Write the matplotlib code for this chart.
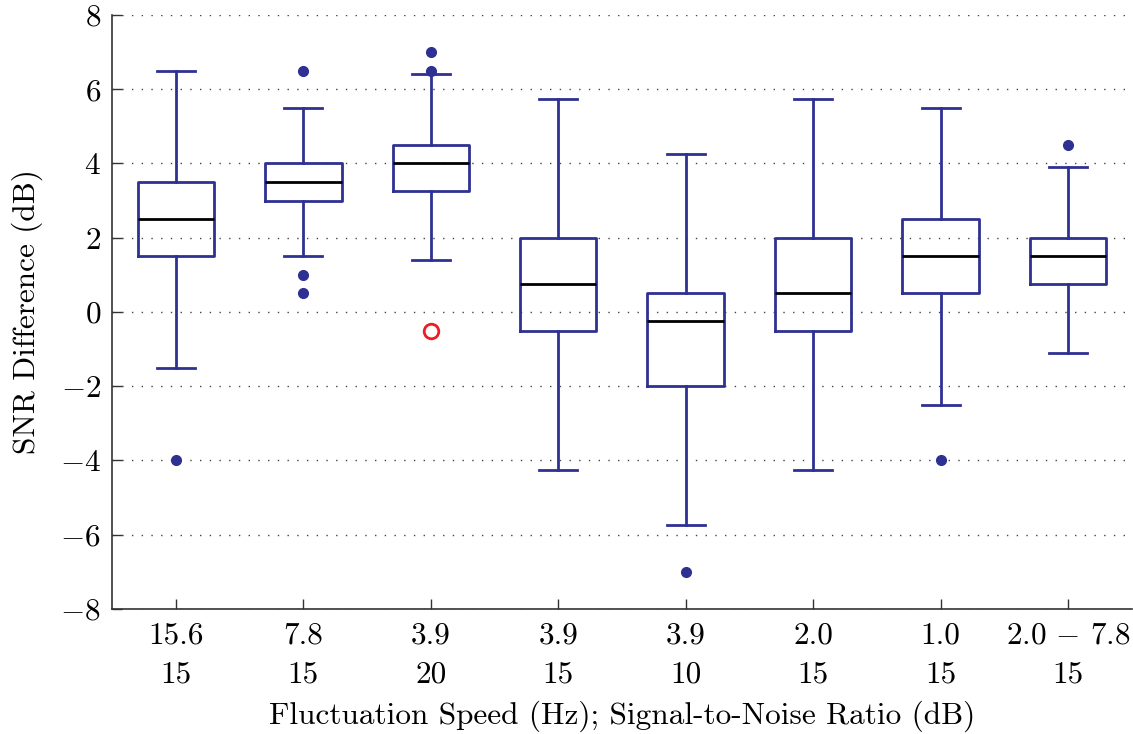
import matplotlib.pyplot as plt

plt.rcParams['font.family'] = 'serif'
plt.rcParams['font.serif'] = ['cmr10']
plt.rcParams['mathtext.fontset'] = 'cm'
plt.rcParams['axes.unicode_minus'] = False

# Condition labels: fluctuation speed (Hz) / SNR (dB)
speeds = ['15.6', '7.8', '3.9', '3.9', '3.9', '2.0', '1.0', r'$2.0\,-\,7.8$']
snrs = ['15', '15', '20', '15', '10', '15', '15', '15']

# Box statistics per condition (dB)
whisker_low = [-1.5, 1.5, 1.4, -4.25, -5.75, -4.25, -2.5, -1.1]
q1 = [1.5, 3.0, 3.25, -0.5, -2.0, -0.5, 0.5, 0.75]
median = [2.5, 3.5, 4.0, 0.75, -0.25, 0.5, 1.5, 1.5]
q3 = [3.5, 4.0, 4.5, 2.0, 0.5, 2.0, 2.5, 2.0]
whisker_high = [6.5, 5.5, 6.4, 5.75, 4.25, 5.75, 5.5, 3.9]
outliers = [[-4.0], [6.5, 1.0, 0.5], [7.0, 6.5], [], [-7.0], [], [-4.0], [4.5]]

# Extra highlighted point
extra_x = [3]
extra_y = [-0.5]

navy = '#2e3192'
fs = 22.5

stats = []
for i in range(len(speeds)):
    stats.append(dict(whislo=whisker_low[i], q1=q1[i], med=median[i],
                      q3=q3[i], whishi=whisker_high[i], fliers=outliers[i]))

fig = plt.figure(figsize=(11.33, 7.34), dpi=100)
ax = fig.add_axes([0.0989, 0.1703, 0.9001, 0.8093])

ax.bxp(stats, positions=range(1, len(stats) + 1), widths=0.6,
       boxprops=dict(color=navy, linewidth=2),
       whiskerprops=dict(color=navy, linewidth=2, linestyle='-'),
       capprops=dict(color=navy, linewidth=2),
       medianprops=dict(color='black', linewidth=2),
       flierprops=dict(marker='o', markerfacecolor=navy, markeredgecolor=navy,
                       markersize=7),
       capwidths=0.3)

ax.plot(extra_x, extra_y, 'o', markerfacecolor='none', markeredgecolor='#ee1c24',
        markersize=10.5, markeredgewidth=2, zorder=5)

ax.set_xlim(0.5, 8.5)
ax.set_ylim(-8, 8)
yt = list(range(-8, 9, 2))
ax.set_yticks(yt)
ax.set_yticklabels(['$%d$' % v for v in yt])
ax.set_xticks(range(1, len(speeds) + 1))
ax.set_xticklabels([s + '\n' + n for s, n in zip(speeds, snrs)], linespacing=1.5)

ax.yaxis.grid(True, linestyle=(0, (1, 6)), color='#444444', linewidth=1)
ax.set_axisbelow(True)

for side in ['top', 'right']:
    ax.spines[side].set_visible(False)
for side in ['left', 'bottom']:
    ax.spines[side].set_color('#333333')
    ax.spines[side].set_linewidth(1.2)

ax.tick_params(direction='in', length=7, width=1, colors='#333333',
               labelsize=fs, labelcolor='black', pad=9)
ax.tick_params(axis='y', pad=8)

ax.set_ylabel('SNR Difference (dB)', fontsize=fs, labelpad=12)
ax.set_xlabel('Fluctuation Speed (Hz); Signal-to-Noise Ratio (dB)', fontsize=fs,
              labelpad=9)

fig.savefig('out.png', dpi=100)
